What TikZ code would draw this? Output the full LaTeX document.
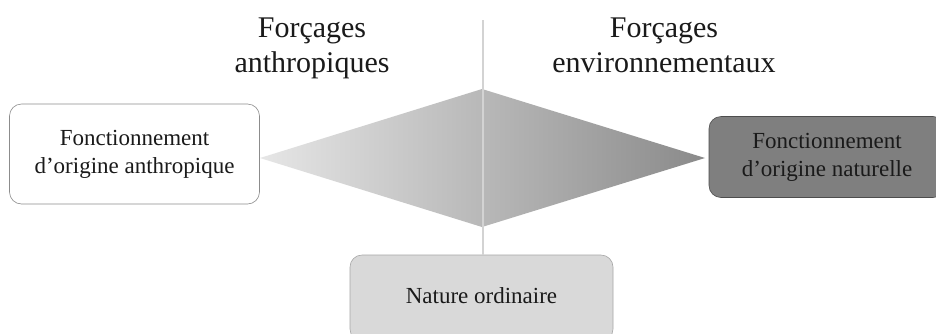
\documentclass[tikz,border=0pt]{standalone}
\usepackage{fontspec}
\setmainfont{Liberation Serif}
\definecolor{dlight}{HTML}{E6E6E6}
\definecolor{dmid}{HTML}{CECECE}
\definecolor{ddark}{HTML}{8A8A8A}
\definecolor{axisgray}{HTML}{D3D3D3}
\definecolor{txt}{HTML}{1A1A1A}
\definecolor{whiteborder}{HTML}{8C8C8C}
\definecolor{darkfill}{HTML}{7F7F7F}
\definecolor{darkborder}{HTML}{4D4D4D}
\definecolor{lightfill}{HTML}{D9D9D9}
\definecolor{lightborder}{HTML}{A6A6A6}
\tikzset{
  title/.style={align=center, inner sep=0pt, text=txt,
    font=\fontsize{30}{35}\selectfont},
  box/.style={rounded corners=12pt, align=center, inner sep=0pt,
    line width=0.6pt, text=txt, font=\fontsize{23}{28}\selectfont},
  whitebox/.style={box, draw=whiteborder, fill=white},
  darkbox/.style={box, draw=darkborder, fill=darkfill},
  lightbox/.style={box, draw=lightborder, fill=lightfill},
  axisline/.style={draw=axisgray, line width=1.3pt}
}
\begin{document}
\begin{tikzpicture}[x=1pt,y=-1pt]
\clip (0,0) rectangle (936,333);
\fill[white] (0,0) rectangle (936,333);
% diamond
\coordinate (dl) at (260,158);
\coordinate (dt) at (482,89);
\coordinate (dr) at (705,158);
\coordinate (db) at (482,227);
\shade[left color=dlight, middle color=dmid, right color=ddark]
  (dl) -- (dt) -- (dr) -- (db) -- cycle;
% boxes
\node[whitebox, minimum width=250pt, minimum height=100pt] (anth) at (134.5,154)
  {Fonctionnement\strut\\d’origine anthropique\strut};
\node[darkbox, minimum width=236pt, minimum height=81pt] (nat) at (827,157)
  {Fonctionnement\strut\\d’origine naturelle\strut};
\node[lightbox, minimum width=263pt, minimum height=86pt] (ord) at (481.5,298)
  {Nature ordinaire\strut};
% vertical axis
\coordinate (axtop) at (483,20);
\draw[axisline] (axtop) -- (axtop |- ord.north);
% titles
\node[title] (tl) at (312,47.5) {Forçages\strut\\anthropiques\strut};
\node[title] (tr) at (664,47.5) {Forçages\strut\\environnementaux\strut};
\end{tikzpicture}
\end{document}
